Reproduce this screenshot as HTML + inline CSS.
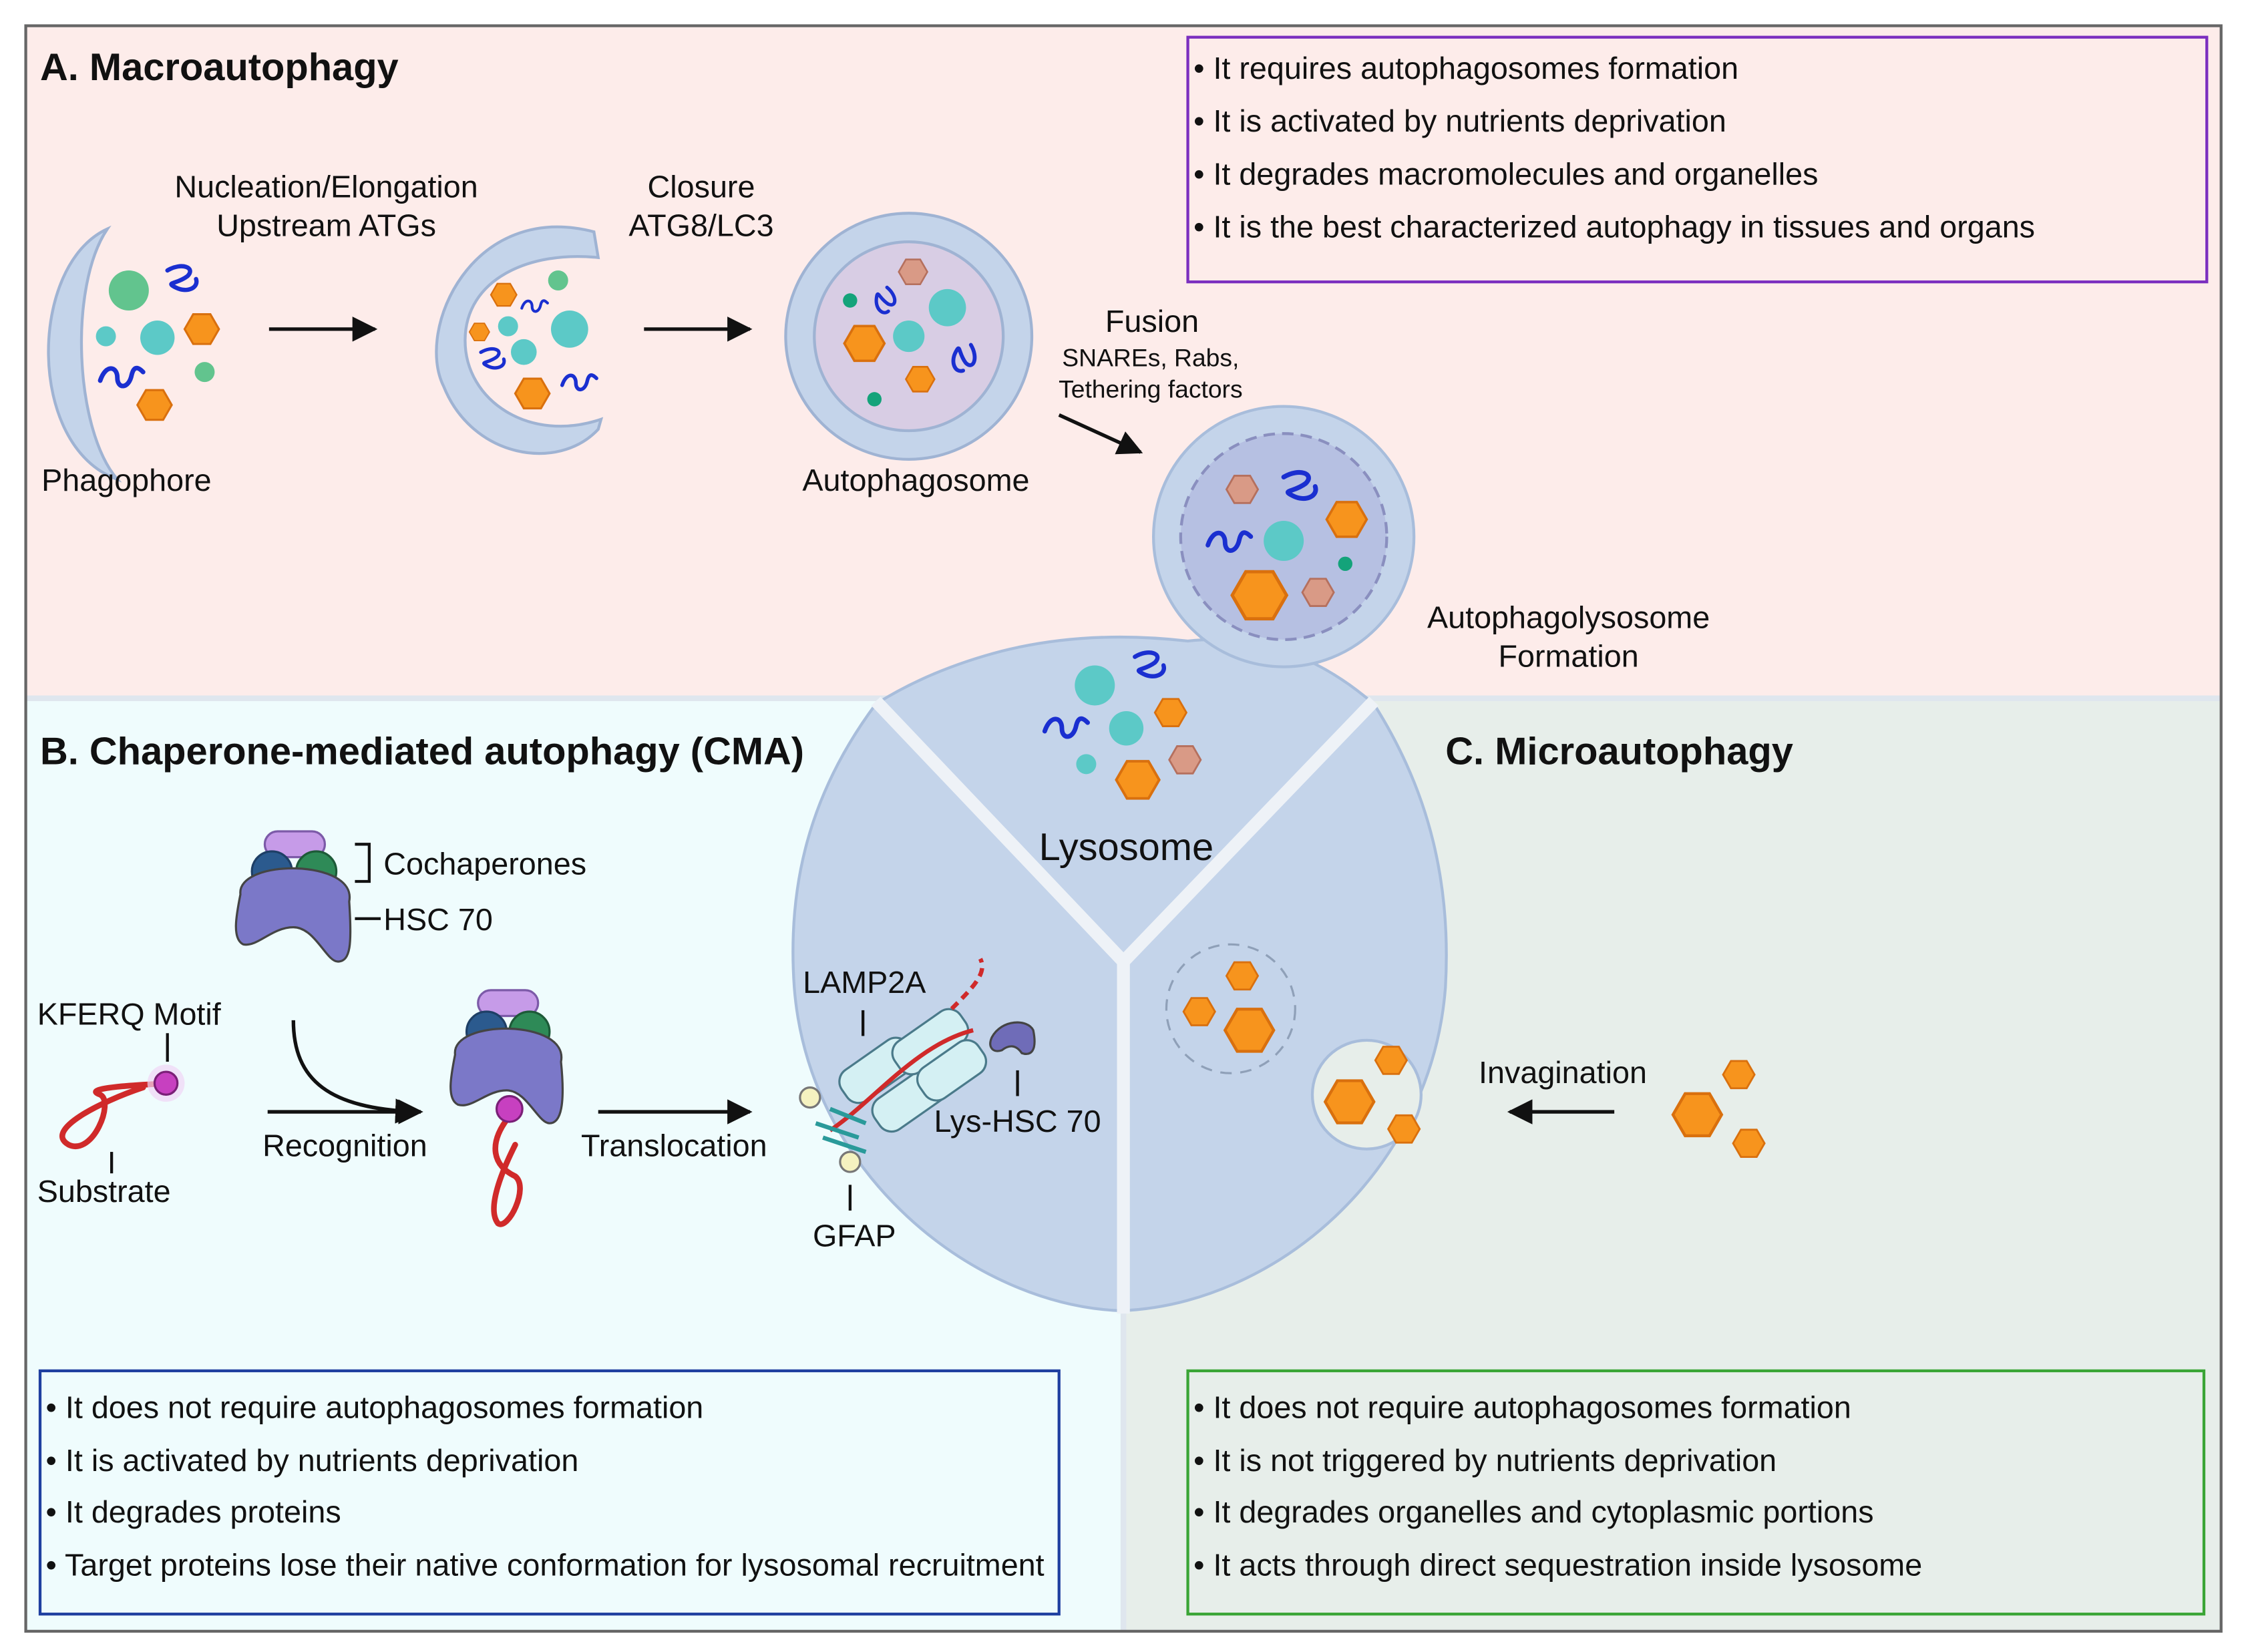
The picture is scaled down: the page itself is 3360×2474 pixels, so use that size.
<!DOCTYPE html>
<html><head><meta charset="utf-8">
<style>
html,body{margin:0;padding:0;background:#fff;}
svg{display:block;}
text{font-family:"Liberation Sans",Arial,sans-serif;fill:#111;}
</style></head>
<body>
<svg width="3360" height="2474" viewBox="0 0 1568 1154.5" preserveAspectRatio="none" xmlns="http://www.w3.org/2000/svg">
<defs>
<polygon id="hx" points="1,0 0.5,0.866 -0.5,0.866 -1,0 -0.5,-0.866 0.5,-0.866" fill="#f7941d" stroke="#d9700e" stroke-width="0.12"/>
<polygon id="hxp" points="1,0 0.5,0.866 -0.5,0.866 -1,0 -0.5,-0.866 0.5,-0.866" fill="#d99a86" stroke="#b5705e" stroke-width="0.12"/>
<path id="sq" d="M-14,4 C-10,-8 -2,-6 -2,2 C-2,10 6,10 8,0 C10,-8 14,-4 16,-2" fill="none" stroke="#1a2fd0" stroke-width="3.2" stroke-linecap="round"/>
<path id="sq2" d="M-10,-6 C0,-12 10,-8 4,-2 C-4,4 -12,2 -4,6 C4,10 12,6 10,0" fill="none" stroke="#1a2fd0" stroke-width="3" stroke-linecap="round"/>
<marker id="ar" viewBox="0 0 10 10" refX="9" refY="5" markerWidth="7" markerHeight="7" orient="auto"><path d="M0,0 L10,5 L0,10 z" fill="#111"/></marker>
</defs>
<rect x="0" y="0" width="1568" height="1154.5" fill="#fff"/>
<rect x="18" y="18" width="1534" height="470" fill="#fdecea"/>
<rect x="18" y="488" width="767" height="652" fill="#effcfd"/>
<rect x="785" y="488" width="767" height="652" fill="#e7eeea"/>
<line x1="18" y1="488" x2="1552" y2="488" stroke="#dfe6ee" stroke-width="4"/>
<line x1="785" y1="680" x2="785" y2="1140" stroke="#dfe6ee" stroke-width="4"/>
<rect x="18" y="18" width="1534" height="1122" fill="none" stroke="#666" stroke-width="2"/>

<!-- lysosome -->
<path d="M612,492 C565,555 550,620 555,690 C565,820 680,912 783,916 C890,912 1000,820 1010,690 C1014,620 1000,555 960,492 Q900,440 830,448 Q760,440 700,455 Q650,468 612,492 z" fill="#c4d4ea" stroke="#a8bddb" stroke-width="2"/>
<circle cx="955" cy="765" r="38" fill="#e7eeea" stroke="#a8bddb" stroke-width="2"/>
<circle cx="897" cy="375" r="91" fill="#c4d4ea" stroke="#a8bddb" stroke-width="2"/>
<circle cx="897" cy="375" r="72" fill="#b6c0e2" stroke="#8a8fbf" stroke-width="2" stroke-dasharray="8,5"/>
<path d="M612,490 L785,672 L960,490" fill="none" stroke="#eef2f7" stroke-width="9"/>
<line x1="785" y1="672" x2="785" y2="918" stroke="#eef2f7" stroke-width="9"/>

<text x="28" y="56" font-size="27" font-weight="bold">A. Macroautophagy</text>
<text x="28" y="534" font-size="27" font-weight="bold">B. Chaperone-mediated autophagy (CMA)</text>
<text x="1010" y="534" font-size="27" font-weight="bold">C. Microautophagy</text>

<rect x="830" y="26" width="712" height="171" fill="none" stroke="#7b2fbf" stroke-width="2"/>
<g font-size="21.8">
<text x="834" y="55">• It requires autophagosomes formation</text>
<text x="834" y="92">• It is activated by nutrients deprivation</text>
<text x="834" y="129">• It degrades macromolecules and organelles</text>
<text x="834" y="166">• It is the best characterized autophagy in tissues and organs</text>
</g>
<rect x="28" y="958" width="712" height="170" fill="none" stroke="#1f3fa0" stroke-width="2"/>
<g font-size="21.8">
<text x="32" y="991">• It does not require autophagosomes formation</text>
<text x="32" y="1028">• It is activated by nutrients deprivation</text>
<text x="32" y="1064">• It degrades proteins</text>
<text x="32" y="1101">• Target proteins lose their native conformation for lysosomal recruitment</text>
</g>
<rect x="830" y="958" width="710" height="170" fill="none" stroke="#3aa536" stroke-width="2"/>
<g font-size="21.8">
<text x="834" y="991">• It does not require autophagosomes formation</text>
<text x="834" y="1028">• It is not triggered by nutrients deprivation</text>
<text x="834" y="1064">• It degrades organelles and cytoplasmic portions</text>
<text x="834" y="1101">• It acts through direct sequestration inside lysosome</text>
</g>

<path d="M75,160 C20,185 18,312 82,335 C52,300 48,200 75,160 z" fill="#c4d4ea" stroke="#9fb3d3" stroke-width="2"/>
<circle cx="90" cy="203" r="14" fill="#62c48e"/>
<circle cx="110" cy="236" r="12" fill="#5cc9c7"/>
<circle cx="74" cy="235" r="7" fill="#5cc9c7"/>
<circle cx="143" cy="260" r="7" fill="#62c48e"/>
<use href="#hx" transform="translate(141,230) scale(12)"/>
<use href="#hx" transform="translate(108,283) scale(12)"/>
<use href="#sq2" transform="translate(127,195)"/>
<use href="#sq" transform="translate(84,262)"/>
<text x="29" y="343" font-size="21.8">Phagophore</text>

<text x="228" y="138" font-size="21.8" text-anchor="middle">Nucleation/Elongation</text>
<text x="228" y="165" font-size="21.8" text-anchor="middle">Upstream ATGs</text>
<line x1="188" y1="230" x2="262" y2="230" stroke="#111" stroke-width="2.5" marker-end="url(#ar)"/>

<path d="M415,162 C330,140 290,230 310,270 C330,320 390,330 418,300 L420,293 C370,310 325,280 325,238 C325,195 370,175 418,180 z" fill="#c4d4ea" stroke="#9fb3d3" stroke-width="2"/>
<circle cx="398" cy="230" r="13" fill="#5cc9c7"/>
<circle cx="366" cy="246" r="9" fill="#5cc9c7"/>
<circle cx="355" cy="228" r="7" fill="#5cc9c7"/>
<circle cx="390" cy="196" r="7" fill="#62c48e"/>
<use href="#hx" transform="translate(352,206) scale(9)"/>
<use href="#hx" transform="translate(335,232) scale(7)"/>
<use href="#hx" transform="translate(372,275) scale(12)"/>
<use href="#sq" transform="translate(404,266) scale(0.8)"/>
<use href="#sq2" transform="translate(344,251) scale(0.8)"/>
<use href="#sq" transform="translate(373,213) scale(0.6)"/>

<text x="490" y="138" font-size="21.8" text-anchor="middle">Closure</text>
<text x="490" y="165" font-size="21.8" text-anchor="middle">ATG8/LC3</text>
<line x1="450" y1="230" x2="524" y2="230" stroke="#111" stroke-width="2.5" marker-end="url(#ar)"/>

<circle cx="635" cy="235" r="86" fill="#c4d4ea" stroke="#9fb3d3" stroke-width="2"/>
<circle cx="635" cy="235" r="66" fill="#d8cde4" stroke="#9fb3d3" stroke-width="2"/>
<use href="#hxp" transform="translate(638,190) scale(10)"/>
<circle cx="662" cy="215" r="13" fill="#5cc9c7"/>
<circle cx="635" cy="235" r="11" fill="#5cc9c7"/>
<use href="#hx" transform="translate(604,240) scale(14)"/>
<use href="#hx" transform="translate(643,265) scale(10)"/>
<circle cx="594" cy="210" r="5" fill="#14a37a"/>
<circle cx="611" cy="279" r="5" fill="#14a37a"/>
<use href="#sq2" transform="translate(618,210) rotate(70) scale(0.8)"/>
<use href="#sq2" transform="translate(673,250) rotate(90) scale(0.9)"/>
<text x="640" y="343" font-size="21.8" text-anchor="middle">Autophagosome</text>

<text x="805" y="232" font-size="21.8" text-anchor="middle">Fusion</text>
<text x="804" y="256" font-size="17.4" text-anchor="middle">SNAREs, Rabs,</text>
<text x="804" y="278" font-size="17.4" text-anchor="middle">Tethering factors</text>
<line x1="740" y1="290" x2="797" y2="316" stroke="#111" stroke-width="2.5" marker-end="url(#ar)"/>

<use href="#hxp" transform="translate(868,342) scale(11)"/>
<use href="#sq2" transform="translate(908,340) scale(1.1)"/>
<use href="#hx" transform="translate(941,363) scale(14)"/>
<circle cx="897" cy="378" r="14" fill="#5cc9c7"/>
<use href="#sq" transform="translate(858,377)"/>
<circle cx="940" cy="394" r="5" fill="#14a37a"/>
<use href="#hx" transform="translate(880,416) scale(19)"/>
<use href="#hxp" transform="translate(921,414) scale(11)"/>
<text x="1096" y="439" font-size="21.8" text-anchor="middle">Autophagolysosome</text>
<text x="1096" y="466" font-size="21.8" text-anchor="middle">Formation</text>

<circle cx="765" cy="479" r="14" fill="#5cc9c7"/>
<use href="#sq2" transform="translate(803,465)"/>
<use href="#hx" transform="translate(818,498) scale(11)"/>
<use href="#sq" transform="translate(744,507)"/>
<circle cx="787" cy="509" r="12" fill="#5cc9c7"/>
<use href="#hxp" transform="translate(828,531) scale(11)"/>
<circle cx="759" cy="534" r="7" fill="#5cc9c7"/>
<use href="#hx" transform="translate(795,545) scale(15)"/>
<text x="787" y="601" font-size="27" text-anchor="middle">Lysosome</text>

<rect x="185" y="581" width="42" height="18" rx="9" fill="#c69be8" stroke="#7c5aa8" stroke-width="1.5"/>
<circle cx="190" cy="609" r="14" fill="#2b5a8e" stroke="#1e3f66" stroke-width="1.5"/>
<circle cx="221" cy="609" r="14" fill="#2e8a57" stroke="#1d5a38" stroke-width="1.5"/>
<path d="M168,625 C165,600 250,600 244,630 C246,660 245,672 236,672 C228,672 220,648 205,648 C190,648 180,662 170,660 C162,656 165,640 168,625 z" fill="#7b78c8" stroke="#444" stroke-width="1.5"/>
<path d="M248,590 L258,590 L258,616 L248,616" fill="none" stroke="#111" stroke-width="2"/>
<text x="268" y="611" font-size="21.8">Cochaperones</text>
<line x1="248" y1="642" x2="266" y2="642" stroke="#111" stroke-width="2"/>
<text x="268" y="650" font-size="21.8">HSC 70</text>

<text x="26" y="716" font-size="21.8">KFERQ Motif</text>
<line x1="117" y1="722" x2="117" y2="742" stroke="#111" stroke-width="2"/>
<path d="M100,760 C70,770 30,790 48,800 C65,808 80,770 70,765 C55,760 100,758 120,757" fill="none" stroke="#d02a2a" stroke-width="4" stroke-linecap="round"/>
<circle cx="116" cy="757" r="13" fill="#f1d6f5" opacity="0.7"/>
<circle cx="116" cy="757" r="8" fill="#c740c0" stroke="#7a2077" stroke-width="1.5"/>
<line x1="78" y1="805" x2="78" y2="820" stroke="#111" stroke-width="2"/>
<text x="26" y="840" font-size="21.8">Substrate</text>

<path d="M205,713 C205,755 230,775 292,777" fill="none" stroke="#111" stroke-width="2.5" marker-end="url(#ar)"/>
<line x1="187" y1="777" x2="294" y2="777" stroke="#111" stroke-width="2.5" marker-end="url(#ar)"/>
<text x="241" y="808" font-size="21.8" text-anchor="middle">Recognition</text>

<rect x="334" y="692" width="42" height="18" rx="9" fill="#c69be8" stroke="#7c5aa8" stroke-width="1.5"/>
<circle cx="340" cy="721" r="14" fill="#2b5a8e" stroke="#1e3f66" stroke-width="1.5"/>
<circle cx="370" cy="721" r="14" fill="#2e8a57" stroke="#1d5a38" stroke-width="1.5"/>
<path d="M318,737 C315,712 398,712 392,742 C395,772 392,785 384,785 C376,785 368,762 354,762 C340,762 330,775 320,772 C312,768 315,752 318,737 z" fill="#7b78c8" stroke="#444" stroke-width="1.5"/>
<path d="M356,780 C340,800 345,815 360,822 C370,830 355,860 348,855 C340,845 350,820 360,800" fill="none" stroke="#d02a2a" stroke-width="4" stroke-linecap="round"/>
<circle cx="356" cy="775" r="9" fill="#c740c0" stroke="#7a2077" stroke-width="1.5"/>

<line x1="418" y1="777" x2="524" y2="777" stroke="#111" stroke-width="2.5" marker-end="url(#ar)"/>
<text x="471" y="808" font-size="21.8" text-anchor="middle">Translocation</text>

<text x="604" y="694" font-size="21.8" text-anchor="middle">LAMP2A</text>
<line x1="603" y1="706" x2="603" y2="724" stroke="#111" stroke-width="2"/>
<g stroke="#4a7a8a" stroke-width="1.5" fill="#d4f0f3">
<rect x="585" y="735" width="56" height="26" rx="10" transform="rotate(-35 613 748)"/>
<rect x="608" y="755" width="56" height="26" rx="10" transform="rotate(-35 636 768)"/>
<rect x="622" y="715" width="56" height="26" rx="10" transform="rotate(-35 650 728)"/>
<rect x="640" y="735" width="50" height="26" rx="10" transform="rotate(-35 665 748)"/>
</g>
<path d="M580,790 C610,770 640,730 680,720" fill="none" stroke="#d02a2a" stroke-width="3"/>
<path d="M665,705 C680,690 690,680 685,670" fill="none" stroke="#d02a2a" stroke-width="3" stroke-dasharray="6,4"/>
<g stroke="#2a9a9a" stroke-width="3"><line x1="570" y1="785" x2="600" y2="795"/><line x1="575" y1="795" x2="605" y2="805"/><line x1="580" y1="775" x2="605" y2="785"/></g>
<circle cx="566" cy="767" r="7" fill="#f5f2c0" stroke="#777" stroke-width="1.5"/>
<circle cx="594" cy="812" r="7" fill="#f5f2c0" stroke="#777" stroke-width="1.5"/>
<line x1="594" y1="828" x2="594" y2="846" stroke="#111" stroke-width="2"/>
<text x="597" y="871" font-size="21.8" text-anchor="middle">GFAP</text>
<path d="M693,725 C700,712 718,712 722,720 C725,735 720,738 714,736 C710,730 705,730 700,734 C694,736 690,732 693,725 z" fill="#6f6cb8" stroke="#444" stroke-width="1.5"/>
<line x1="711" y1="748" x2="711" y2="766" stroke="#111" stroke-width="2"/>
<text x="711" y="791" font-size="21.8" text-anchor="middle">Lys-HSC 70</text>

<circle cx="860" cy="705" r="45" fill="none" stroke="#8fa0b8" stroke-width="1.5" stroke-dasharray="8,6"/>
<use href="#hx" transform="translate(868,682) scale(11)"/>
<use href="#hx" transform="translate(838,707) scale(11)"/>
<use href="#hx" transform="translate(873,720) scale(17)"/>
<use href="#hx" transform="translate(972,741) scale(11)"/>
<use href="#hx" transform="translate(943,770) scale(17)"/>
<use href="#hx" transform="translate(981,789) scale(11)"/>
<text x="1092" y="757" font-size="21.8" text-anchor="middle">Invagination</text>
<line x1="1128" y1="777" x2="1055" y2="777" stroke="#111" stroke-width="2.5" marker-end="url(#ar)"/>
<use href="#hx" transform="translate(1215,751) scale(11)"/>
<use href="#hx" transform="translate(1186,779) scale(17)"/>
<use href="#hx" transform="translate(1222,799) scale(11)"/>
</svg>
</body></html>
